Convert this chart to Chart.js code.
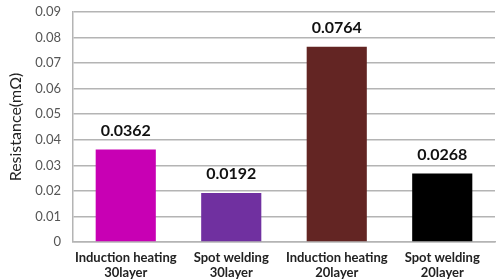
<!DOCTYPE html>
<html>
<head>
<meta charset="utf-8">
<script src="https://cdn.jsdelivr.net/npm/chart.js@4.4.0/dist/chart.umd.min.js"></script>
<style>
  html, body { margin: 0; padding: 0; background: #fff; }
  #wrap { width: 497px; height: 280px; }
</style>
</head>
<body>
<div id="wrap"><canvas id="resChart" width="497" height="280"></canvas></div>
<script>
// Resistance per joint type
const categories = [
    ['Induction heating', '30layer'],
    ['Spot welding', '30layer'],
    ['Induction heating', '20layer'],
    ['Spot welding', '20layer']
];
const resistance = [0.0362, 0.0192, 0.0764, 0.0268];
const valueLabels = ['0.0362', '0.0192', '0.0764', '0.0268'];
const barColors = ['#c800b4', '#7030a0', '#632523', '#000000'];
const yTicks = [0, 0.01, 0.02, 0.03, 0.04, 0.05, 0.06, 0.07, 0.08, 0.09];

const FONT = "Lato, 'Open Sans', sans-serif";

// value text above each bar
const barValues = {
    id: 'barValues',
    afterDatasetsDraw(chart) {
        const ctx = chart.ctx;
        const meta = chart.getDatasetMeta(0);
        ctx.save();
        ctx.font = 'bold 16px ' + FONT;
        ctx.fillStyle = '#111';
        ctx.textAlign = 'center';
        ctx.textBaseline = 'bottom';
        meta.data.forEach((bar, i) => {
            ctx.fillText(valueLabels[i], bar.x, bar.y - 11);
        });
        ctx.restore();
    }
};

new Chart(document.getElementById('resChart').getContext('2d'), {
    type: 'bar',
    data: {
        labels: categories,
        datasets: [{
            data: resistance,
            backgroundColor: barColors,
            borderWidth: 0,
            categoryPercentage: 1,
            barPercentage: 0.57
        }]
    },
    options: {
        responsive: false,
        animation: false,
        events: [],
        layout: { padding: { top: 0, right: 2, left: 0, bottom: 0 } },
        plugins: {
            legend: { display: false },
            tooltip: { enabled: false }
        },
        scales: {
            y: {
                min: 0,
                max: 0.09,
                afterBuildTicks(scale) {
                    scale.ticks = yTicks.map(v => ({ value: v }));
                },
                afterFit(scale) {
                    scale.width = 73;
                    scale.paddingTop = 12;
                    scale.paddingBottom = 0;
                },
                grid: { color: '#b4b4b4', lineWidth: 1.5, drawTicks: false },
                border: { color: '#b4b4b4', width: 1.5 },
                ticks: {
                    color: '#555',
                    padding: 12,
                    font: { family: FONT, size: 13 },
                    callback: v => v === 0 ? '0' : v.toFixed(2)
                },
                title: {
                    display: true,
                    text: 'Resistance(mΩ)',
                    color: '#222',
                    font: { family: FONT, size: 16 },
                    padding: { top: 6, bottom: 0 }
                }
            },
            x: {
                afterFit(scale) { scale.height = 38; },
                grid: { display: false, drawTicks: false },
                border: { color: '#b4b4b4', width: 1.5 },
                ticks: {
                    color: '#222',
                    padding: 9,
                    maxRotation: 0,
                    autoSkip: false,
                    font: { family: FONT, size: 13, weight: 'bold', lineHeight: 1.1 }
                }
            }
        }
    },
    plugins: [barValues]
});
</script>
</body>
</html>
